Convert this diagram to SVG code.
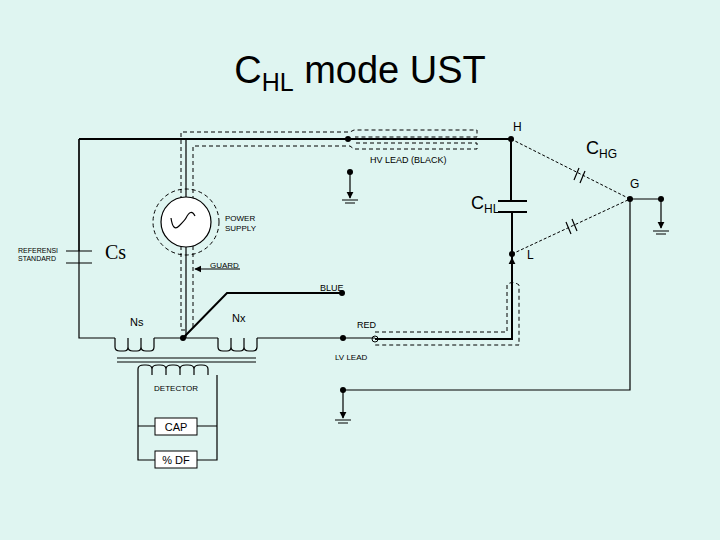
<svg xmlns="http://www.w3.org/2000/svg" width="720" height="540" viewBox="0 0 720 540">
<defs>
<marker id="ar" viewBox="0 0 10 10" refX="9" refY="5" markerWidth="6" markerHeight="6" orient="auto"><path d="M0,0L10,5L0,10z" fill="#000"/></marker>
</defs>
<style>
.w{stroke:#000;stroke-width:2;fill:none}
.t{stroke:#000;stroke-width:1.2;fill:none}
.d{stroke:#000;stroke-width:1;fill:none;stroke-dasharray:4,3}
.dd{stroke:#000;stroke-width:1;fill:none;stroke-dasharray:3,2}
text{font-family:"Liberation Sans",Arial,sans-serif;fill:#000}
.s{font-size:8px}
.m{font-size:9px}
</style>
<rect width="720" height="540" fill="#dff5f1"/>
<text x="360" y="83" font-size="38" text-anchor="middle">C<tspan font-size="25" dy="8">HL</tspan><tspan dy="-8"> mode UST</tspan></text>
<g id="connectors">
<path class="w" d="M79,139H511V201M512,212V339H375"/>
<path class="t" d="M79,139V338H115M154,338H218M257,338H343M343,338H375"/>
<path class="t" d="M186,139V197M186,247V338"/>
<path class="w" d="M183,338L227,293H342"/>
<path class="t" d="M117,358H256M117,362H256"/>
<path class="t" d="M630,199H661M630,199V390H343"/>
<path class="t" d="M66,251H92M66,263H92M79,251V139"/>
<path class="w" d="M498,201H527M498,212H527"/>
<path class="d" d="M181,200V132H350l4,-2h123v7h-122M193,200V146H350l4,3h123v-6h-122"/>
<path class="d" d="M181,246V330h5M193,246V330"/>
<path class="d" d="M375,332H507V285q5,-5 12,0V345H375"/>
<path class="dd" d="M511,139L630,199M512,254L630,199"/>
<path class="t" d="M579,168l-5,12M585,171l-5,12M566,222l5,12M572,219l5,12"/>
<path class="t" d="M240,269H195" marker-end="url(#ar)"/>
<path class="t" d="M350,172V198" marker-end="url(#ar)"/>
<path class="t" d="M661,199V228" marker-end="url(#ar)"/>
<path class="t" d="M343,390V418" marker-end="url(#ar)"/>
<path class="t" d="M512,268V258" marker-end="url(#ar)"/>
<path class="t" d="M342,200H358M345,203H355M653,231H669M656,234H666M335,420H351M338,423H348"/>
<path class="t" d="M115,338v9q0,4 5,4h4q4,0 4,-4v-9v9q0,4 5,4h4q4,0 4,-4v-9v9q0,4 5,4h4q4,0 4,-4v-9"/>
<path class="t" d="M218,338v9q0,4 5,4h4q4,0 4,-4v-9v9q0,4 5,4h4q4,0 4,-4v-9v9q0,4 5,4h4q4,0 4,-4v-9"/>
<path class="t" d="M138,375v-6q0,-4 6,-4h2q6,0 6,4v6v-6q0,-4 6,-4h2q6,0 6,4v6v-6q0,-4 6,-4h2q6,0 6,4v6v-6q0,-4 6,-4h2q6,0 6,4v6v-6q0,-4 6,-4h2q6,0 6,4v6"/>
<path class="t" d="M138,375V460H155M138,426H155M217,375V460H197M217,426H197"/>
</g>
<g id="power-supply">
<circle cx="186" cy="222" r="33" class="d"/>
<circle cx="186" cy="222" r="25" fill="#fff" stroke="#000" stroke-width="1.2"/>
<path class="t" d="M171,218q2,14 8,8t7,-8q5,-10 9,-2" fill="none"/>
<text x="225" y="221" class="s">POWER</text><text x="225" y="231" class="s">SUPPLY</text>
</g>
<g id="nodes" fill="#000">
<circle cx="348" cy="139" r="3"/><circle cx="511" cy="139" r="3"/><circle cx="512" cy="254" r="3"/>
<circle cx="630" cy="199" r="3"/><circle cx="661" cy="199" r="3"/><circle cx="350" cy="172" r="3"/>
<circle cx="183" cy="338" r="3"/><circle cx="342" cy="293" r="3"/><circle cx="343" cy="338" r="3"/><circle cx="343" cy="390" r="3"/>
<circle cx="375" cy="339" r="3" fill="none" stroke="#000"/>
</g>
<g id="detector">
<rect x="155" y="418" width="42" height="17" fill="#fff" stroke="#000"/>
<rect x="155" y="451" width="42" height="17" fill="#fff" stroke="#000"/>
<text x="176" y="431" font-size="11" text-anchor="middle">CAP</text>
<text x="176" y="464" font-size="11" text-anchor="middle">% DF</text>
<text x="176" y="391" class="s" text-anchor="middle">DETECTOR</text>
</g>
<g id="labels">
<text x="18" y="253" font-size="7">REFERENSI</text><text x="18" y="261" font-size="7">STANDARD</text>
<text x="105" y="259" font-size="20" style="font-family:'Liberation Serif',serif">Cs</text>
<text x="210" y="268" class="s">GUARD</text>
<text x="320" y="291" class="m">BLUE</text>
<text x="130" y="326" font-size="11">Ns</text>
<text x="232" y="322" font-size="11">Nx</text>
<text x="357" y="328" class="m">RED</text>
<text x="335" y="360" class="s">LV LEAD</text>
<text x="370" y="163" class="m">HV LEAD (BLACK)</text>
<text x="513" y="131" font-size="12">H</text>
<text x="586" y="154" font-size="18">C<tspan font-size="12" dy="4">HG</tspan></text>
<text x="630" y="188" font-size="12">G</text>
<text x="471" y="209" font-size="18">C<tspan font-size="12" dy="4">HL</tspan></text>
<text x="527" y="259" font-size="12">L</text>
</g>
</svg>
